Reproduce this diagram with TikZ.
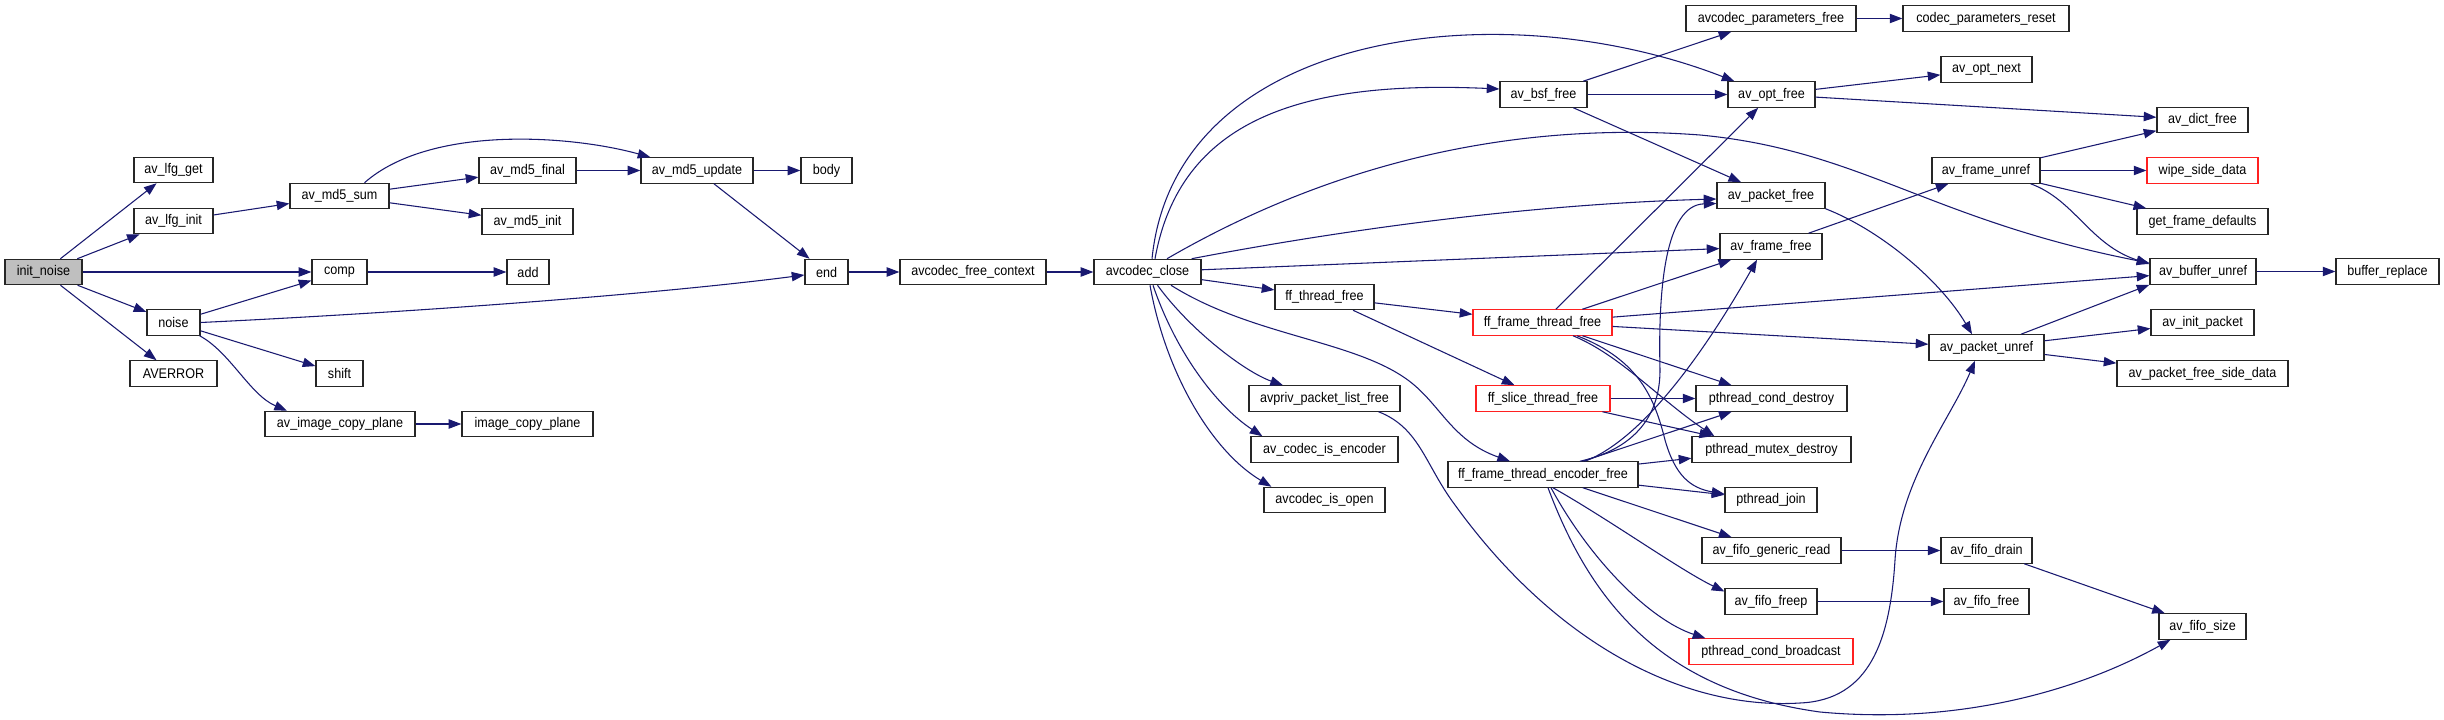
\documentclass[tikz,border=0pt]{standalone}
\usepackage{fontspec}
\setmainfont{Liberation Sans}[FakeStretch=0.9]
\usetikzlibrary{arrows.meta,calc}
\definecolor{edgec}{HTML}{191970}
\definecolor{nodegray}{HTML}{BFBFBF}
\definecolor{redline}{HTML}{FF2020}
\begin{document}
\begin{tikzpicture}[x=0.75pt,y=-0.75pt,
  box/.style={draw=black!85, line width=0.9pt, fill=white, inner sep=0pt,
    minimum height=19pt, font=\fontsize{10.5}{12}\selectfont},
  redbox/.style={box, draw=redline},
  bw/.style={minimum width=#1*0.75pt},
  edge/.style={draw=edgec, line width=0.8pt, -{Triangle[length=9.5pt,width=7pt]}}]
\useasboundingbox[fill=white] (0,0) rectangle (2444,720);
% nodes
\node[box,bw=77,fill=nodegray] (initnoise) at (43.5,272) {init\_noise};
\node[box,bw=79] (avlfgget) at (173.5,170) {av\_lfg\_get};
\node[box,bw=79] (avlfginit) at (173.5,221) {av\_lfg\_init};
\node[box,bw=99] (avmdsum) at (339.5,196) {av\_md5\_sum};
\node[box,bw=97] (avmdfinal) at (527.5,170.5) {av\_md5\_final};
\node[box,bw=91] (avmdinit) at (527.5,221.5) {av\_md5\_init};
\node[box,bw=55] (comp) at (339.5,272) {comp};
\node[box,bw=42] (add) at (528,272) {add};
\node[box,bw=53] (noise) at (173.5,322.5) {noise};
\node[box,bw=87] (averror) at (173.5,373.5) {AVERROR};
\node[box,bw=47] (shift) at (339.5,373.5) {shift};
\node[box,bw=150] (avimagecopyplane) at (340,424) {av\_image\_copy\_plane};
\node[box,bw=131] (imagecopyplane) at (527.5,424) {image\_copy\_plane};
\node[box,bw=112] (avmdupdate) at (697,170.5) {av\_md5\_update};
\node[box,bw=51] (body) at (826.5,170.5) {body};
\node[box,bw=43] (endn) at (826.5,272) {end};
\node[box,bw=146] (avcodecfreecontext) at (973,272) {avcodec\_free\_context};
\node[box,bw=107] (avcodecclose) at (1147.5,272) {avcodec\_close};
\node[box,bw=170] (avcodecparametersfree) at (1771,18.5) {avcodec\_parameters\_free};
\node[box,bw=166] (codecparametersreset) at (1986,18.5) {codec\_parameters\_reset};
\node[box,bw=87] (avbsffree) at (1543.5,94.5) {av\_bsf\_free};
\node[box,bw=87] (avoptfree) at (1771.5,94.5) {av\_opt\_free};
\node[box,bw=91] (avoptnext) at (1986.5,69.5) {av\_opt\_next};
\node[box,bw=91] (avdictfree) at (2202.5,120) {av\_dict\_free};
\node[box,bw=108] (avpacketfree) at (1771,195.5) {av\_packet\_free};
\node[box,bw=102] (avframefree) at (1771,246.5) {av\_frame\_free};
\node[box,bw=108] (avframeunref) at (1986,170.5) {av\_frame\_unref};
\node[redbox,bw=111] (wipesidedata) at (2202.5,170.5) {wipe\_side\_data};
\node[box,bw=131] (getframedefaults) at (2202.5,221.5) {get\_frame\_defaults};
\node[box,bw=106] (avbufferunref) at (2203,271.5) {av\_buffer\_unref};
\node[box,bw=103] (bufferreplace) at (2387.5,271.5) {buffer\_replace};
\node[box,bw=103] (avinitpacket) at (2202.5,322.5) {av\_init\_packet};
\node[box,bw=115] (avpacketunref) at (1986.5,347.5) {av\_packet\_unref};
\node[box,bw=171] (avpacketfreesidedata) at (2202.5,373.5) {av\_packet\_free\_side\_data};
\node[box,bw=99] (ffthreadfree) at (1324.5,297) {ff\_thread\_free};
\node[redbox,bw=139] (ffframethreadfree) at (1542.5,322.5) {ff\_frame\_thread\_free};
\node[redbox,bw=134] (ffslicethreadfree) at (1543,398.5) {ff\_slice\_thread\_free};
\node[box,bw=151] (avprivpacketlistfree) at (1324.5,398.5) {avpriv\_packet\_list\_free};
\node[box,bw=147] (avcodecisencoder) at (1324.5,449.5) {av\_codec\_is\_encoder};
\node[box,bw=121] (avcodecisopen) at (1324.5,500) {avcodec\_is\_open};
\node[box,bw=190] (ffframethreadencoderfree) at (1543,474.5) {ff\_frame\_thread\_encoder\_free};
\node[box,bw=151] (pthreadconddestroy) at (1771.5,398.5) {pthread\_cond\_destroy};
\node[box,bw=159] (pthreadmutexdestroy) at (1771.5,449.5) {pthread\_mutex\_destroy};
\node[box,bw=92] (pthreadjoin) at (1771,500) {pthread\_join};
\node[box,bw=139] (avfifogenericread) at (1771.5,550.5) {av\_fifo\_generic\_read};
\node[box,bw=92] (avfifofreep) at (1771,601.5) {av\_fifo\_freep};
\node[redbox,bw=164] (pthreadcondbroadcast) at (1771,651.5) {pthread\_cond\_broadcast};
\node[box,bw=91] (avfifodrain) at (1986.5,550.5) {av\_fifo\_drain};
\node[box,bw=85] (avfifofree) at (1986.5,601.5) {av\_fifo\_free};
\node[box,bw=87] (avfifosize) at (2202.5,626.5) {av\_fifo\_size};
% straight edges
\path[edge] (initnoise) -- (avlfgget);
\path[edge] (initnoise) -- (avlfginit);
\path[edge] (initnoise) -- (comp);
\path[edge] (initnoise) -- (noise);
\path[edge] (initnoise) -- (averror);
\path[edge] (avlfginit) -- (avmdsum);
\path[edge] (avmdsum) -- (avmdfinal);
\path[edge] (avmdsum) -- (avmdinit);
\path[edge] (avmdfinal) -- (avmdupdate);
\path[edge] (avmdupdate) -- (body);
\path[edge] (avmdupdate) -- (endn);
\path[edge] (comp) -- (add);
\path[edge] (noise) -- (comp);
\path[edge] (noise) -- (shift);
\path[edge] (avimagecopyplane) -- (imagecopyplane);
\path[edge] (endn) -- (avcodecfreecontext);
\path[edge] (avcodecfreecontext) -- (avcodecclose);
\path[edge] (avcodecclose) -- (avframefree);
\path[edge] (avcodecclose) -- (ffthreadfree);
\path[edge] (avbsffree) -- (avcodecparametersfree);
\path[edge] (avbsffree) -- (avoptfree);
\path[edge] (avbsffree) -- (avpacketfree);
\path[edge] (avcodecparametersfree) -- (codecparametersreset);
\path[edge] (avoptfree) -- (avoptnext);
\path[edge] (avoptfree) -- (avdictfree);
\path[edge] (avframefree) -- (avframeunref);
\path[edge] (avframeunref) -- (avdictfree);
\path[edge] (avframeunref) -- (wipesidedata);
\path[edge] (avframeunref) -- (getframedefaults);
\path[edge] (avbufferunref) -- (bufferreplace);
\path[edge] (avpacketunref) -- (avbufferunref.south west);
\path[edge] (avpacketunref) -- (avinitpacket);
\path[edge] (avpacketunref) -- (avpacketfreesidedata);
\path[edge] (ffthreadfree) -- (ffframethreadfree);
\path[edge] (ffthreadfree) -- (ffslicethreadfree);
\path[edge] (ffframethreadfree) -- (avoptfree);
\path[edge] (ffframethreadfree) -- (avframefree);
\path[edge] (ffframethreadfree) -- (avbufferunref);
\path[edge] (ffframethreadfree) -- (avpacketunref);
\path[edge] (ffframethreadfree) -- (pthreadconddestroy);
\path[edge] (ffslicethreadfree) -- (pthreadconddestroy);
\path[edge] (ffslicethreadfree) -- (pthreadmutexdestroy);
\path[edge] (ffframethreadencoderfree) -- (pthreadconddestroy);
\path[edge] (ffframethreadencoderfree) -- (pthreadmutexdestroy);
\path[edge] (ffframethreadencoderfree) -- (pthreadjoin);
\path[edge] (ffframethreadencoderfree) -- (avfifogenericread);
\path[edge] (avfifogenericread) -- (avfifodrain);
\path[edge] (avfifofreep) -- (avfifofree);
\path[edge] (avfifodrain) -- (avfifosize);
% curved edges
\path[edge] ($(avmdsum.north)+(25,0)$) .. controls (430,125) and (570,135) .. ($(avmdupdate.north west)+(10,0)$);
\path[edge] (noise.east) .. controls (400,313) and (650,295) .. ($(endn.west)+(0,3)$);
\path[edge] ($(noise.south east)+(-1,0)$) .. controls (230,352) and (250,395) .. ($(avimagecopyplane.north)+(-53,0)$);
\path[edge] ($(avcodecclose.north)+(4.5,0)$) .. controls (1175,30) and (1500,-10) .. ($(avoptfree.north west)+(7,0)$);
\path[edge] ($(avcodecclose.north)+(7.5,0)$) .. controls (1180,120) and (1300,80) .. ($(avbsffree.west)+(0,-5.5)$);
\path[edge] ($(avcodecclose.north)+(19.5,0)$) .. controls (1320,170) and (1500,120) .. (1700,135) .. controls (1860,150) and (1930,220) .. ($(avbufferunref.west)+(0,-8.5)$);
\path[edge] ($(avcodecclose.north east)+(-10,0)$) .. controls (1300,238) and (1500,205) .. ($(avpacketfree.west)+(0,3.5)$);
\path[edge] ($(avcodecclose.south)+(23.5,0)$) .. controls (1250,335) and (1350,340) .. (1405,378) .. controls (1440,402) and (1450,440) .. ($(ffframethreadencoderfree.north)+(-33,0)$);
\path[edge] ($(avcodecclose.south)+(10,0)$) .. controls (1190,330) and (1245,372) .. ($(avprivpacketlistfree.north)+(-41.5,0)$);
\path[edge] ($(avcodecclose.south)+(5.5,0)$) .. controls (1175,350) and (1215,405) .. ($(avcodecisencoder.north west)+(12,0)$);
\path[edge] ($(avcodecclose.south)+(2.5,0)$) .. controls (1165,370) and (1210,450) .. ($(avcodecisopen.north west)+(8,0)$);
\path[edge] (avpacketfree.south east) .. controls (1880,230) and (1940,280) .. ($(avpacketunref.north)+(-14.5,0)$);
\path[edge] ($(avframeunref.south east)+(-10,0)$) .. controls (2075,200) and (2090,245) .. ($(avbufferunref.west)+(0,-7.5)$);
\path[edge] ($(ffframethreadfree.south)+(30.5,0)$) .. controls (1620,355) and (1660,400) .. ($(pthreadmutexdestroy.north west)+(23,0)$);
\path[edge] ($(ffframethreadfree.south)+(34.5,0)$) .. controls (1640,360) and (1655,400) .. (1665,440) .. controls (1675,475) and (1690,488) .. ($(pthreadjoin.west)+(0,-6)$);
\path[edge] ($(ffframethreadencoderfree.north)+(37,0)$) .. controls (1630,450) and (1660,420) .. (1660,370) .. controls (1658,290) and (1665,205) .. ($(avpacketfree.west)+(0,8)$);
\path[edge] ($(ffframethreadencoderfree.north)+(42,0)$) .. controls (1640,440) and (1700,360) .. ($(avframefree.south)+(-14,0)$);
\path[edge] ($(ffframethreadencoderfree.south)+(10,0)$) .. controls (1610,520) and (1680,570) .. ($(avfifofreep.west)+(0,-10)$);
\path[edge] ($(ffframethreadencoderfree.south)+(8,0)$) .. controls (1590,560) and (1650,620) .. ($(pthreadcondbroadcast.north west)+(17,0)$);
\path[edge] ($(ffframethreadencoderfree.south)+(5,0)$) .. controls (1590,600) and (1660,690) .. (1820,712) .. controls (1960,725) and (2080,690) .. ($(avfifosize.south west)+(12,0)$);
\path[edge] ($(avprivpacketlistfree.south east)+(-22,0)$) .. controls (1420,428) and (1425,465) .. (1455,505) .. controls (1560,650) and (1690,710) .. (1800,703) .. controls (1870,700) and (1890,640) .. (1895,560) .. controls (1900,480) and (1950,420) .. ($(avpacketunref.south)+(-11.5,0)$);
\end{tikzpicture}
\end{document}
